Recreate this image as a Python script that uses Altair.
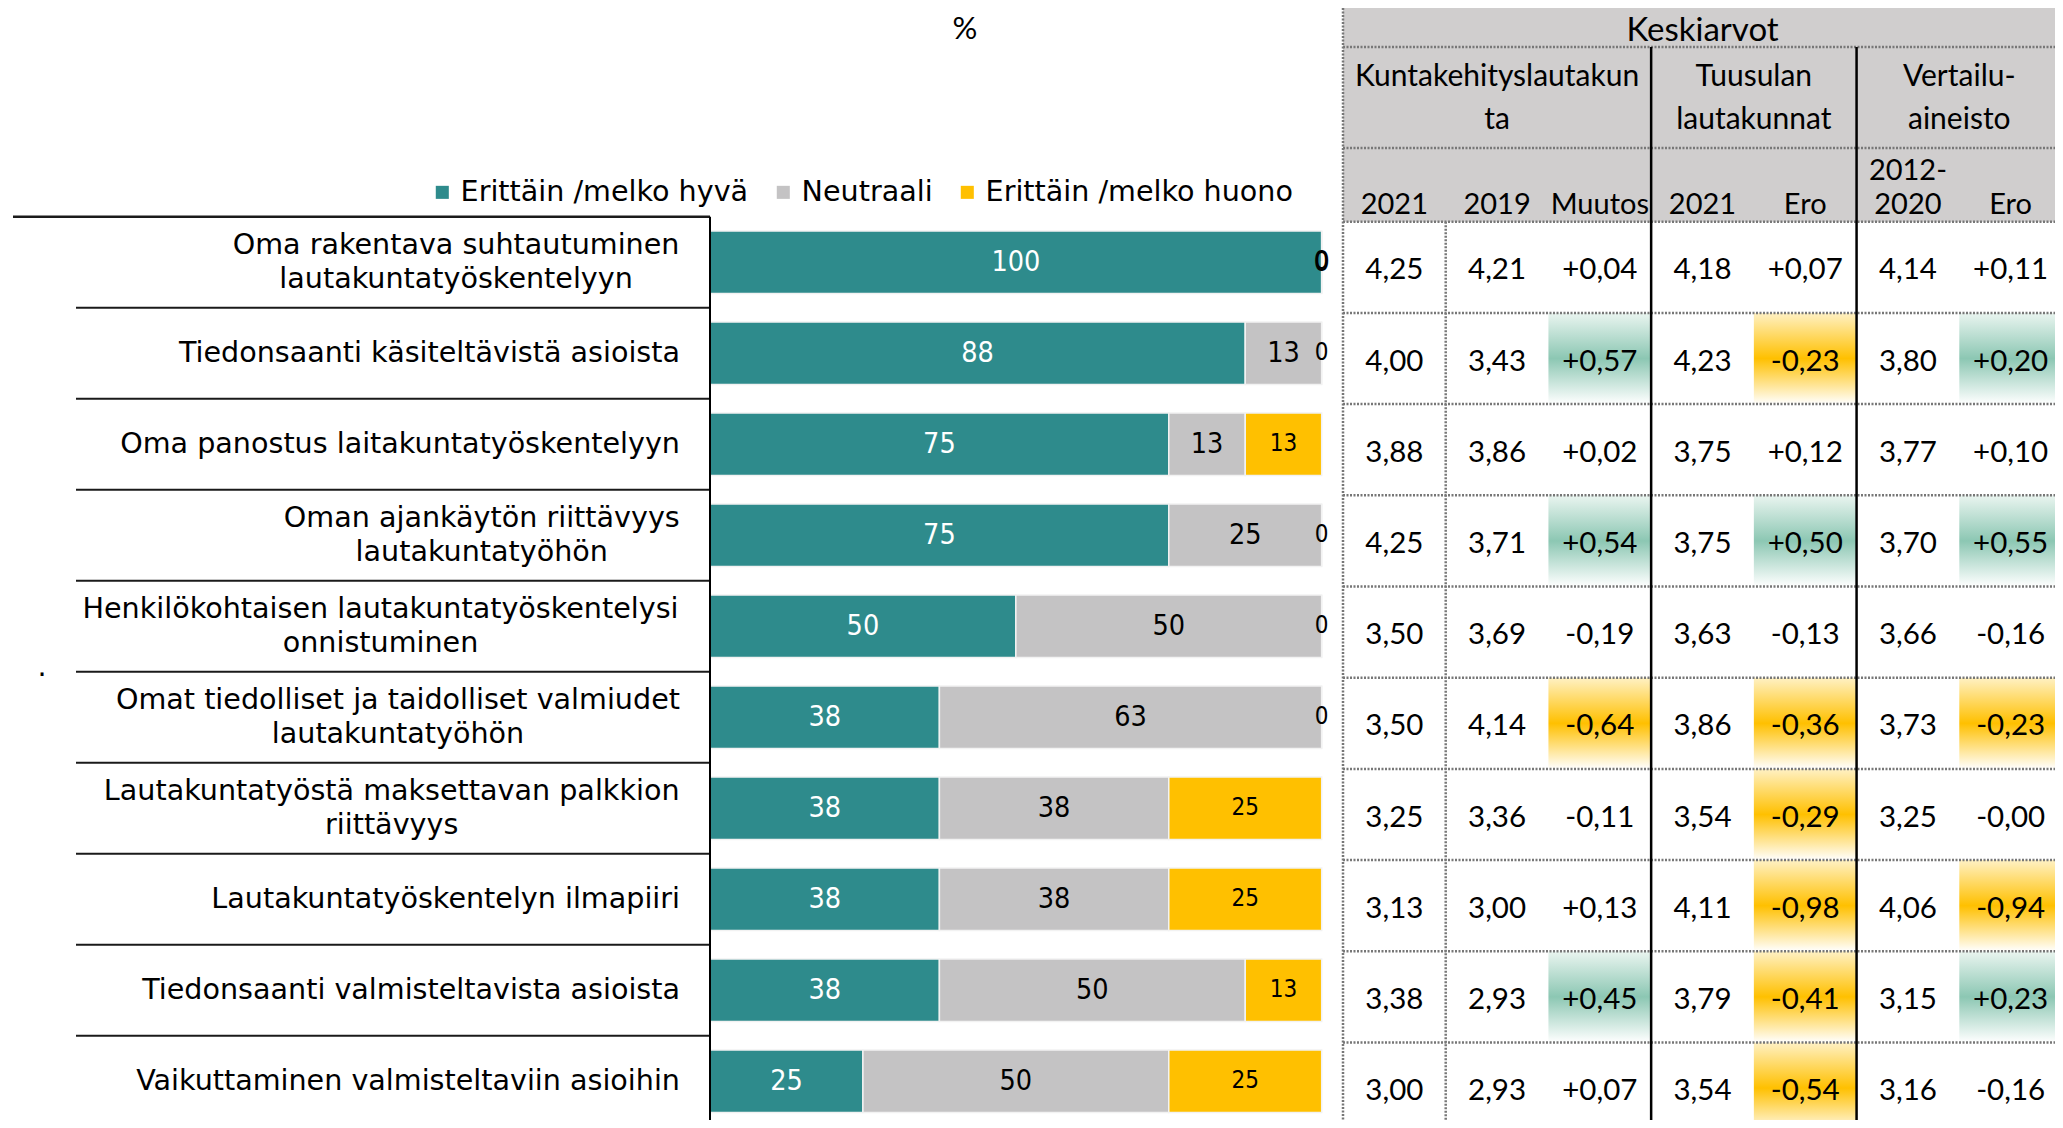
import math
import altair as alt
import pandas as pd

# ---------------- data ----------------
label_lines = [
    ["Oma rakentava suhtautuminen", "lautakuntatyöskentelyyn"],
    ["Tiedonsaanti käsiteltävistä asioista"],
    ["Oma panostus laitakuntatyöskentelyyn"],
    ["Oman ajankäytön riittävyys", "lautakuntatyöhön"],
    ["Henkilökohtaisen lautakuntatyöskentelysi", "onnistuminen"],
    ["Omat tiedolliset ja taidolliset valmiudet", "lautakuntatyöhön"],
    ["Lautakuntatyöstä maksettavan palkkion", "riittävyys"],
    ["Lautakuntatyöskentelyn ilmapiiri"],
    ["Tiedonsaanti valmisteltavista asioista"],
    ["Vaikuttaminen valmisteltaviin asioihin"],
]
categories = [" ".join(l) for l in label_lines]

series = ["Erittäin /melko hyvä", "Neutraali", "Erittäin /melko huono"]
series_colors = ["#2E8B8C", "#C4C3C4", "#FFC000"]
good = [100, 87.5, 75, 75, 50, 37.5, 37.5, 37.5, 37.5, 25]
neutral = [0, 12.5, 12.5, 25, 50, 62.5, 37.5, 37.5, 50, 50]
bad = [0, 0, 12.5, 0, 0, 0, 25, 25, 12.5, 25]
axis_unit = "%"

table_title = "Keskiarvot"
group_titles = [["Kuntakehityslautakun", "ta"], ["Tuusulan", "lautakunnat"], ["Vertailu-", "aineisto"]]
group_cols = [[0, 3], [3, 5], [5, 7]]
column_titles = [["2021"], ["2019"], ["Muutos"], ["2021"], ["Ero"], ["2012-", "2020"], ["Ero"]]
kunta_2021 = [4.25, 4.00, 3.88, 4.25, 3.50, 3.50, 3.25, 3.13, 3.38, 3.00]
kunta_2019 = [4.21, 3.43, 3.86, 3.71, 3.69, 4.14, 3.36, 3.00, 2.93, 2.93]
kunta_muutos = [0.04, 0.57, 0.02, 0.54, -0.19, -0.64, -0.11, 0.13, 0.45, 0.07]
tuusula_2021 = [4.18, 4.23, 3.75, 3.75, 3.63, 3.86, 3.54, 4.11, 3.79, 3.54]
tuusula_ero = [0.07, -0.23, 0.12, 0.50, -0.13, -0.36, -0.29, -0.98, -0.41, -0.54]
vertailu_2012_2020 = [4.14, 3.80, 3.77, 3.70, 3.66, 3.73, 3.25, 4.06, 3.15, 3.16]
vertailu_ero = [0.11, 0.20, 0.10, 0.55, -0.16, -0.23, -0.0, -0.94, 0.23, -0.16]
diff_column = [False, False, True, False, True, False, True]
highlight_limit = 0.2

# ---------------- layout / style ----------------
W, H = 2047, 1112
ROW_TOP, ROW_BOTTOM = 208.7, 1118.7
BAR_X0, BAR_X1 = 702.0, 1313.7
LABEL_RIGHT = 672
SEP_X_INNER, SEP_X_OUTER = 68, 5
TAB_X0, TAB_X1 = 1335.0, 2054.0
TAB_Y0, TAB_STEP = 213.7, 91.2
HEAD_LINE1, HEAD_LINE2 = 39, 140

LABEL_FONT = "DejaVu Sans"
LABEL_SIZE = 28.6
BAR_FONT = "DejaVu Sans Condensed, Liberation Sans"
TAB_FONT = "Lato"
DOT = dict(stroke="#777777", strokeWidth=2.5, strokeDash=[2, 1.5])

DEJAVU_ADV = {" ": 651, "a": 1255, "b": 1300, "c": 1126, "d": 1300, "e": 1260, "f": 721,
              "g": 1300, "h": 1298, "i": 569, "j": 569, "k": 1186, "l": 569, "m": 1995,
              "n": 1298, "o": 1253, "p": 1300, "r": 842, "s": 1067, "t": 803, "u": 1298,
              "v": 1212, "y": 1212, "ä": 1255, "ö": 1253, "O": 1612, "H": 1540, "L": 1141,
              "T": 1251, "V": 1399}


def text_width(s, size):
    return sum(DEJAVU_ADV.get(ch, 1250) for ch in s) / 2048 * size


def fmt_pct(v):
    return str(int(math.floor(v + 0.5)))


def fmt_mean(v):
    return f"{v:.2f}".replace(".", ",")


def fmt_diff(v):
    return f"{v:+.2f}".replace(".", ",")


# ---------------- scales ----------------
row_scale = alt.Scale(domain=categories, range=[ROW_TOP, ROW_BOTTOM], paddingInner=0, paddingOuter=0)
bar_row_scale = alt.Scale(domain=categories, range=[ROW_TOP, ROW_BOTTOM], paddingInner=0.312, paddingOuter=0.156)
bar_x_scale = alt.Scale(domain=[0, 100], range=[BAR_X0, BAR_X1], nice=False, zero=False)
tab_x_scale = alt.Scale(domain=[0, len(column_titles)], range=[TAB_X0, TAB_X1], nice=False, zero=False)
tab_row_scale = alt.Scale(domain=categories, range=[TAB_Y0, TAB_Y0 + TAB_STEP * len(categories)],
                          paddingInner=0, paddingOuter=0)

# ---------------- frames ----------------
bar_rows = []
for i, c in enumerate(categories):
    for k, vals in enumerate([good, neutral, bad]):
        bar_rows.append({"cat": c, "series": series[k], "order": k, "value": vals[i], "label": fmt_pct(vals[i])})
bars_df = pd.DataFrame(bar_rows)

single_df = pd.DataFrame([{"cat": categories[i], "text": l[0]} for i, l in enumerate(label_lines) if len(l) == 1])
multi_df = pd.DataFrame([
    {"cat": categories[i], "line1": l[0], "line2": l[1],
     "cx": LABEL_RIGHT - max(text_width(s, LABEL_SIZE) for s in l) / 2}
    for i, l in enumerate(label_lines) if len(l) > 1])

table_columns = [kunta_2021, kunta_2019, kunta_muutos, tuusula_2021, tuusula_ero, vertailu_2012_2020, vertailu_ero]
cells = []
for j, vals in enumerate(table_columns):
    for i, v in enumerate(vals):
        if diff_column[j]:
            txt = fmt_diff(v)
            cls = "pos" if v >= highlight_limit - 1e-9 else ("neg" if v <= -highlight_limit + 1e-9 else "")
        else:
            txt = fmt_mean(v)
            cls = ""
        cells.append({"cat": categories[i], "col": j, "text": txt, "cls": cls})
cells_df = pd.DataFrame(cells)

groups_df = pd.DataFrame([{"c0": g[0], "c1": g[1], "l1": t[0], "l2": t[1]} for g, t in zip(group_cols, group_titles)])
colhead_df = pd.DataFrame([{"col": j, "top": t[0] if len(t) > 1 else "", "bottom": t[-1]}
                           for j, t in enumerate(column_titles)])
span_df = pd.DataFrame([{"x0": 0, "x1": len(column_titles), "title": table_title}])
rows_df = pd.DataFrame({"cat": categories})

# ---------------- layers ----------------
layers = []

# table header background
layers.append(alt.Chart(span_df).mark_rect(fill="#D0CECE").encode(
    x=alt.X("x0:Q", scale=tab_x_scale, axis=None), x2="x1:Q",
    y=alt.value(0), y2=alt.value(TAB_Y0)))

# gradient highlight cells
grad_pos = alt.Gradient(gradient="linear", x1=0, x2=0, y1=0, y2=1, stops=[
    alt.GradientStop(offset=0, color="#EAF5F0"), alt.GradientStop(offset=0.5, color="#8CC7B3"),
    alt.GradientStop(offset=1, color="#FFFFFF")])
grad_neg = alt.Gradient(gradient="linear", x1=0, x2=0, y1=0, y2=1, stops=[
    alt.GradientStop(offset=0, color="#FFF1C4"), alt.GradientStop(offset=0.5, color="#FFC000"),
    alt.GradientStop(offset=1, color="#FFFFFF")])
for cls, grad in [("pos", grad_pos), ("neg", grad_neg)]:
    layers.append(alt.Chart(cells_df).transform_filter(alt.datum.cls == cls)
                  .transform_calculate(ce="datum.col + 1")
                  .mark_rect(fill=grad).encode(
                      x=alt.X("col:Q", scale=tab_x_scale, axis=None), x2="ce:Q",
                      y=alt.Y("cat:N", scale=tab_row_scale, axis=None)))

# table grid: data row lines
layers.append(alt.Chart(rows_df).transform_calculate(x0="0", x1=str(len(column_titles)))
              .mark_rule(**DOT).encode(
                  y=alt.Y("cat:N", scale=tab_row_scale, bandPosition=0, axis=None),
                  x=alt.X("x0:Q", scale=tab_x_scale, axis=None), x2="x1:Q"))
for yv in [HEAD_LINE1, HEAD_LINE2]:
    layers.append(alt.Chart(span_df).mark_rule(**DOT).encode(
        x=alt.X("x0:Q", scale=tab_x_scale, axis=None), x2="x1:Q", y=alt.value(yv)))
# vertical lines
layers.append(alt.Chart(pd.DataFrame({"c": [0, len(column_titles)]})).mark_rule(**DOT).encode(
    x=alt.X("c:Q", scale=tab_x_scale, axis=None), y=alt.value(0), y2=alt.value(H)))
layers.append(alt.Chart(pd.DataFrame({"c": [1]})).mark_rule(**DOT).encode(
    x=alt.X("c:Q", scale=tab_x_scale, axis=None), y=alt.value(TAB_Y0), y2=alt.value(H)))
layers.append(alt.Chart(pd.DataFrame({"c": [g[0] for g in group_cols[1:]]})).mark_rule(
    color="#000000", strokeWidth=2.5).encode(
    x=alt.X("c:Q", scale=tab_x_scale, axis=None), y=alt.value(HEAD_LINE1), y2=alt.value(H)))

# table header texts
layers.append(alt.Chart(span_df).transform_calculate(xc="(datum.x0 + datum.x1) / 2")
              .mark_text(font=TAB_FONT, fontSize=33, color="#000000", baseline="alphabetic").encode(
                  x=alt.X("xc:Q", scale=tab_x_scale, axis=None), y=alt.value(33), text="title:N"))
for fld, yv in [("l1", 78), ("l2", 121)]:
    layers.append(alt.Chart(groups_df).transform_calculate(gc="(datum.c0 + datum.c1) / 2")
                  .mark_text(font=TAB_FONT, fontSize=30, color="#000000", baseline="alphabetic").encode(
                      x=alt.X("gc:Q", scale=tab_x_scale, axis=None), y=alt.value(yv), text=f"{fld}:N"))
layers.append(alt.Chart(colhead_df).transform_calculate(xc="datum.col + 0.5")
              .mark_text(font=TAB_FONT, fontSize=29, color="#000000", baseline="alphabetic").encode(
                  x=alt.X("xc:Q", scale=tab_x_scale, axis=None), y=alt.value(206), text="bottom:N"))
layers.append(alt.Chart(colhead_df).transform_filter("datum.top != ''").transform_calculate(xc="datum.col + 0.5")
              .mark_text(font=TAB_FONT, fontSize=29, color="#000000", baseline="alphabetic").encode(
                  x=alt.X("xc:Q", scale=tab_x_scale, axis=None), y=alt.value(172), text="top:N"))

# table values
layers.append(alt.Chart(cells_df).transform_calculate(xc="datum.col + 0.5")
              .mark_text(font=TAB_FONT, fontSize=29.5, color="#000000", baseline="middle", dy=3).encode(
                  x=alt.X("xc:Q", scale=tab_x_scale, axis=None),
                  y=alt.Y("cat:N", scale=tab_row_scale, axis=None), text="text:N"))

# stacked bars
bar_base = (alt.Chart(bars_df)
            .transform_stack(stack="value", groupby=["cat"], sort=[alt.SortField("order", order="ascending")],
                             as_=["v1", "v2"])
            .transform_calculate(mid="(datum.v1 + datum.v2) / 2"))
layers.append(bar_base.mark_bar(stroke="#F2F2F2", strokeWidth=1.5).encode(
    y=alt.Y("cat:N", scale=bar_row_scale, axis=None),
    x=alt.X("v1:Q", scale=bar_x_scale, axis=None), x2="v2:Q",
    color=alt.Color("series:N", scale=alt.Scale(domain=series, range=series_colors),
                    legend=alt.Legend(orient="none", legendX=420, legendY=170, direction="horizontal",
                                      title=None, symbolType="square", symbolSize=170,
                                      symbolStrokeWidth=0, symbolOpacity=1,
                                      labelFont=LABEL_FONT, labelFontSize=28.6, labelColor="#000000",
                                      labelLimit=0, labelOffset=4, columnPadding=20, padding=0))))
for k, col, size in [(0, "#FFFFFF", 28.5), (1, "#000000", 28.5), (2, "#000000", 24)]:
    layers.append(bar_base.transform_filter(alt.datum.order == k)
                  .mark_text(font=BAR_FONT, fontSize=size, color=col, baseline="middle").encode(
                      y=alt.Y("cat:N", scale=row_scale, axis=None),
                      x=alt.X("mid:Q", scale=bar_x_scale, axis=None), text="label:N"))

# left label grid
layers.append(alt.Chart(rows_df.iloc[1:]).mark_rule(color="#1A1A1A", strokeWidth=2).encode(
    y=alt.Y("cat:N", scale=row_scale, bandPosition=0, axis=None),
    x=alt.value(SEP_X_INNER), x2=alt.value(BAR_X0)))
layers.append(alt.Chart(rows_df.iloc[:1]).mark_rule(color="#1A1A1A", strokeWidth=2.5).encode(
    y=alt.Y("cat:N", scale=row_scale, bandPosition=0, axis=None),
    x=alt.value(SEP_X_OUTER), x2=alt.value(BAR_X0)))
layers.append(alt.Chart(rows_df.iloc[-1:]).mark_rule(color="#1A1A1A", strokeWidth=2.5).encode(
    y=alt.Y("cat:N", scale=row_scale, bandPosition=1, axis=None),
    x=alt.value(SEP_X_OUTER), x2=alt.value(BAR_X0)))
layers.append(alt.Chart(pd.DataFrame({"v": [0]})).mark_rule(color="#000000", strokeWidth=2).encode(
    x=alt.X("v:Q", scale=bar_x_scale, axis=None), y=alt.value(ROW_TOP), y2=alt.value(H)))

# category labels
layers.append(alt.Chart(single_df).mark_text(font=LABEL_FONT, fontSize=LABEL_SIZE, color="#000000",
                                            align="right", baseline="middle").encode(
    y=alt.Y("cat:N", scale=row_scale, axis=None), x=alt.value(LABEL_RIGHT), text="text:N"))
for fld, dy in [("line1", -17), ("line2", 17)]:
    layers.append(alt.Chart(multi_df).mark_text(font=LABEL_FONT, fontSize=LABEL_SIZE, color="#000000",
                                               align="center", baseline="middle", dy=dy).encode(
        y=alt.Y("cat:N", scale=row_scale, axis=None), x=alt.X("cx:Q", scale=None, axis=None),
        text=f"{fld}:N"))

# unit title and stray dot
layers.append(alt.Chart(pd.DataFrame({"t": [axis_unit]})).mark_text(
    font=TAB_FONT, fontSize=31, color="#000000", baseline="alphabetic").encode(
    x=alt.value(957), y=alt.value(31), text="t:N"))
layers.append(alt.Chart(pd.DataFrame({"t": ["."]})).mark_text(
    font=LABEL_FONT, fontSize=LABEL_SIZE, color="#000000", baseline="alphabetic").encode(
    x=alt.value(34), y=alt.value(668), text="t:N"))

chart = (alt.layer(*layers)
         .resolve_scale(x="independent", y="independent", color="independent")
         .properties(width=W, height=H, autosize=alt.AutoSizeParams(type="none"), padding=0,
                     background="white")
         .configure_view(stroke=None))

chart.save("out.html", embed_options={"renderer": "svg", "actions": False})
